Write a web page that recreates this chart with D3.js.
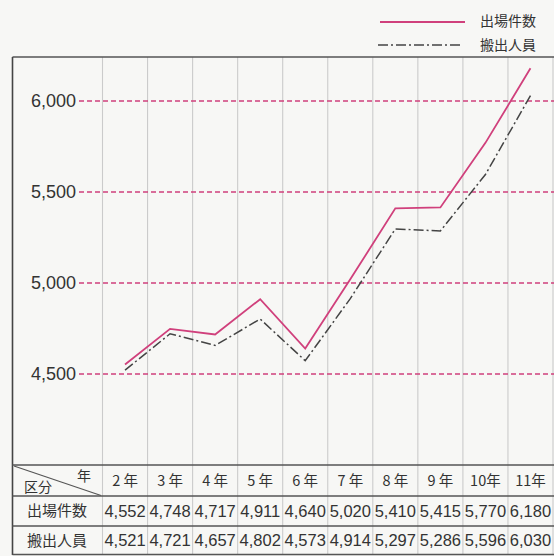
<!DOCTYPE html>
<html>
<head>
<meta charset="utf-8">
<script src="https://cdn.jsdelivr.net/npm/d3@7"></script>
<style>
  html, body { margin: 0; padding: 0; background: #f7f7f5; }
  svg { display: block; }
</style>
</head>
<body>
<svg width="554" height="556"></svg>
<script>
const years = ["2 年", "3 年", "4 年", "5 年", "6 年", "7 年", "8 年", "9 年", "10年", "11年"];
const calls = [4552, 4748, 4717, 4911, 4640, 5020, 5410, 5415, 5770, 6180];
const transported = [4521, 4721, 4657, 4802, 4573, 4914, 5297, 5286, 5596, 6030];
const yTicks = [4500, 5000, 5500, 6000];
const seriesNames = ["出場件数", "搬出人員"];

const svg = d3.select("svg");
const ink = "#333";
const pink = "#d0407c";
const jp = "'Noto Sans CJK JP', 'Noto Sans', sans-serif";
const num = "'Liberation Sans', Arial, sans-serif";

const x = d3.scaleBand().domain(years).range([102.5, 553]).paddingInner(0).paddingOuter(0);
const y = d3.scaleLinear().domain([4500, 6000]).range([374, 101]);

const boxTop = 57, rowH = [465, 496, 526, 554.5];

// column lines, plot and table
const edges = years.map(d => x(d)).concat([x.range()[1]]);
svg.append("g").selectAll("line").data(edges).join("line")
    .attr("x1", d => d).attr("x2", d => d)
    .attr("y1", boxTop).attr("y2", 555)
    .attr("stroke", "#cbcbcb").attr("stroke-width", 1.1);

// dashed reference lines
svg.append("g").selectAll("line").data(yTicks).join("line")
    .attr("x1", 79).attr("x2", 554)
    .attr("y1", d => y(d)).attr("y2", d => y(d))
    .attr("stroke", pink).attr("stroke-width", 1.4)
    .attr("stroke-dasharray", "5,3");

svg.append("g").selectAll("text").data(yTicks).join("text")
    .attr("x", 76).attr("y", d => y(d))
    .attr("dy", "0.36em")
    .attr("text-anchor", "end")
    .attr("font-family", num).attr("font-size", 18)
    .attr("fill", ink)
    .text(d => d3.format(",")(d));

// series
const line = d3.line().x((d, i) => x(years[i]) + x.bandwidth() / 2).y(d => y(d));
svg.append("path").datum(calls)
    .attr("d", line).attr("fill", "none")
    .attr("stroke", pink).attr("stroke-width", 1.8);
svg.append("path").datum(transported)
    .attr("d", line).attr("fill", "none")
    .attr("stroke", "#444").attr("stroke-width", 1.5)
    .attr("stroke-dasharray", "10,3,2,3");

// box
svg.append("line").attr("x1", 12.5).attr("x2", 554).attr("y1", boxTop).attr("y2", boxTop)
    .attr("stroke", "#555").attr("stroke-width", 1.4);
svg.append("line").attr("x1", 12.5).attr("x2", 12.5).attr("y1", boxTop).attr("y2", 555)
    .attr("stroke", "#444").attr("stroke-width", 1.6);

// table rows
svg.append("g").selectAll("line").data(rowH).join("line")
    .attr("x1", 12.5).attr("x2", 554)
    .attr("y1", d => d).attr("y2", d => d)
    .attr("stroke", "#555").attr("stroke-width", 1.3);

// header cell with diagonal
svg.append("line").attr("x1", 14).attr("y1", 466).attr("x2", 101).attr("y2", 495.5)
    .attr("stroke", "#555").attr("stroke-width", 1.2);
svg.append("text").attr("x", 84).attr("y", 476).attr("dy", "0.35em")
    .attr("text-anchor", "middle").attr("font-family", jp).attr("font-size", 14)
    .attr("fill", ink).text("年");
svg.append("text").attr("x", 38).attr("y", 487).attr("dy", "0.35em")
    .attr("text-anchor", "middle").attr("font-family", jp).attr("font-size", 14)
    .attr("fill", ink).text("区分");

svg.append("g").selectAll("text").data(years).join("text")
    .attr("x", d => x(d) + x.bandwidth() / 2).attr("y", 480.5).attr("dy", "0.35em")
    .attr("text-anchor", "middle").attr("font-family", jp).attr("font-size", 14.5)
    .attr("fill", ink).text(d => d);

const rows = [calls, transported];
rows.forEach((vals, r) => {
  const cy = (rowH[r + 1] + rowH[r + 2]) / 2;
  svg.append("text").attr("x", 57).attr("y", cy).attr("dy", "0.35em")
      .attr("text-anchor", "middle").attr("font-family", jp).attr("font-size", 15)
      .attr("fill", ink).text(seriesNames[r]);
  svg.append("g").selectAll("text").data(vals).join("text")
      .attr("x", (d, i) => x(years[i]) + x.bandwidth() / 2).attr("y", cy).attr("dy", "0.36em")
      .attr("text-anchor", "middle").attr("font-family", num).attr("font-size", 16.5)
      .attr("fill", ink).text(d => d3.format(",")(d));
});

// legend
const legend = svg.append("g");
legend.append("line").attr("x1", 380).attr("x2", 465).attr("y1", 22).attr("y2", 22)
    .attr("stroke", pink).attr("stroke-width", 1.8);
legend.append("line").attr("x1", 378).attr("x2", 462).attr("y1", 45).attr("y2", 45)
    .attr("stroke", "#444").attr("stroke-width", 1.4).attr("stroke-dasharray", "10,3,2,3");
legend.selectAll("text").data(seriesNames).join("text")
    .attr("x", 480).attr("y", (d, i) => 21 + i * 24).attr("dy", "0.35em")
    .attr("font-family", jp).attr("font-size", 14).attr("fill", ink)
    .text(d => d);
</script>
</body>
</html>
